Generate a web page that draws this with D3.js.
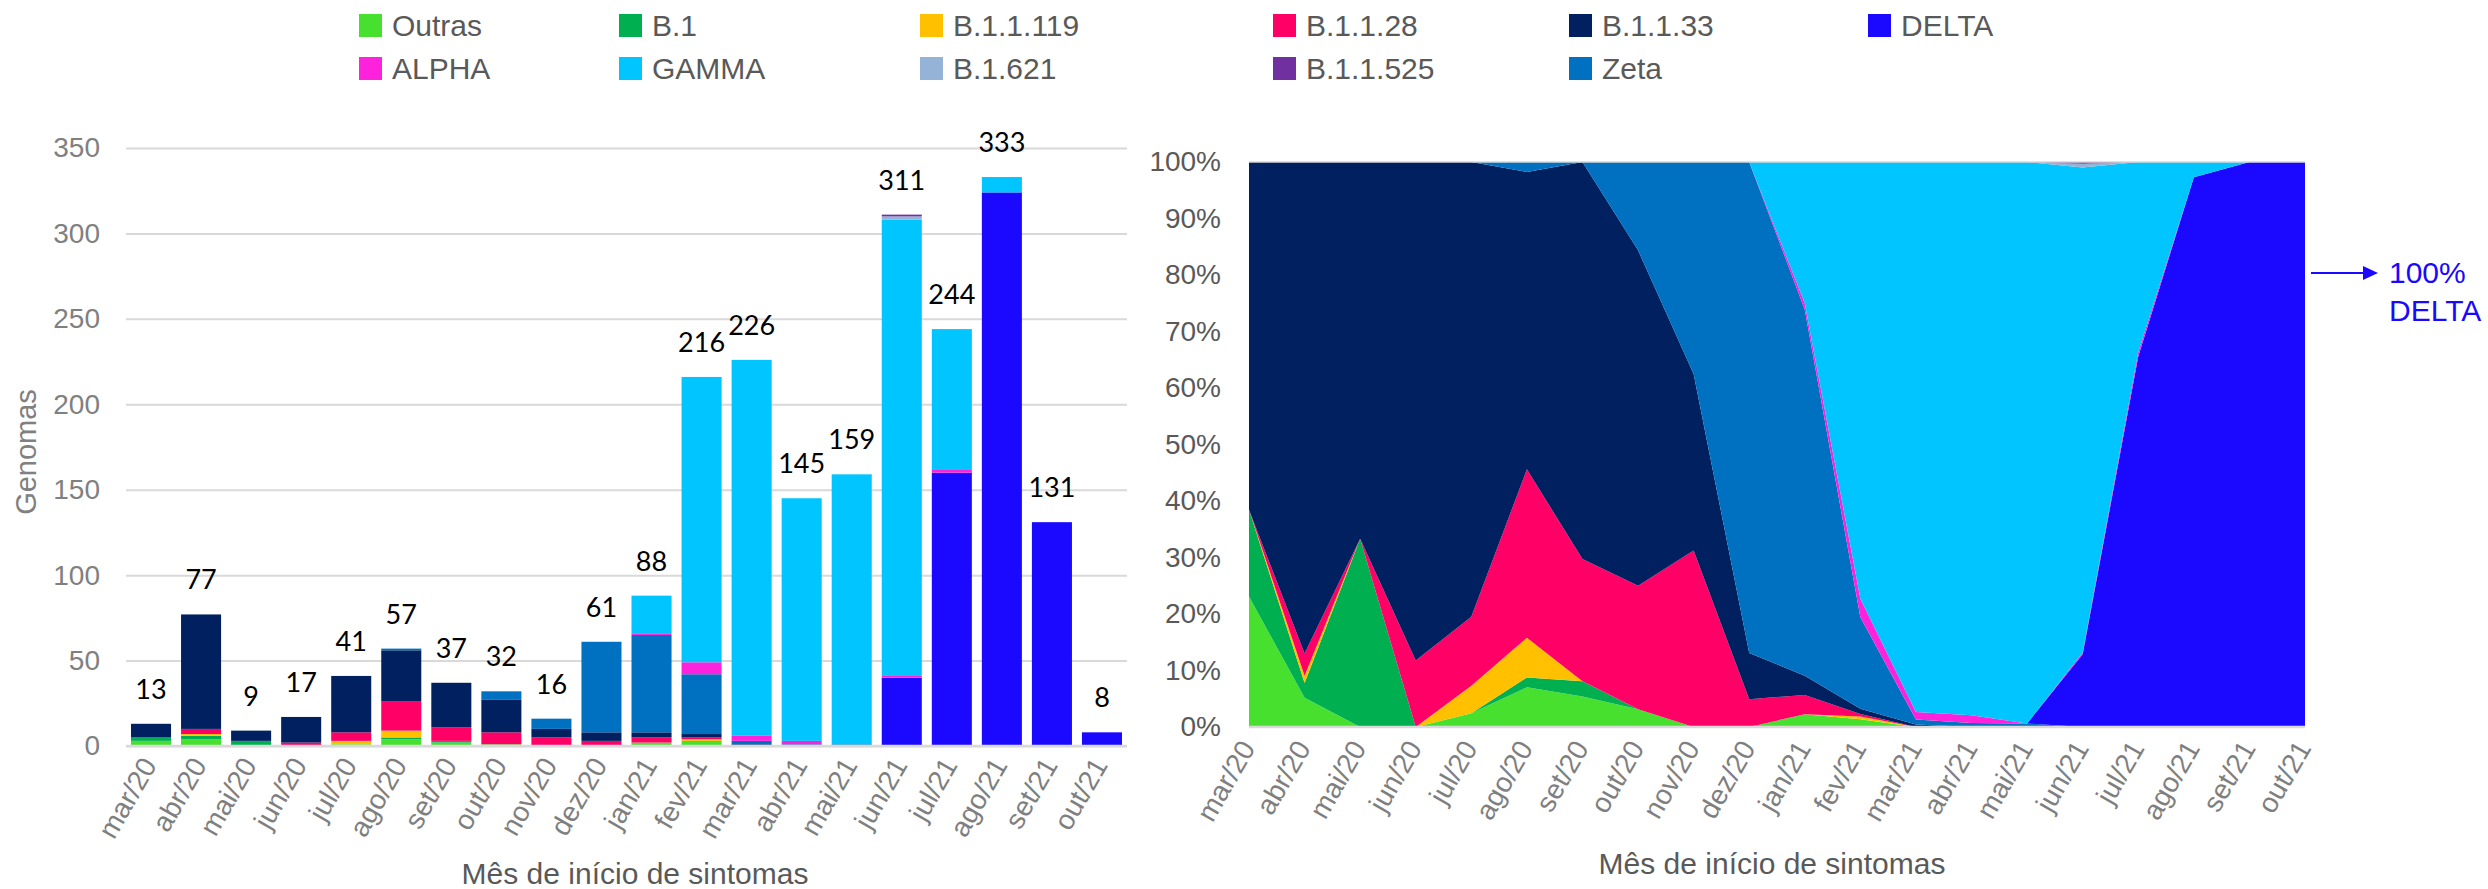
<!DOCTYPE html>
<html>
<head>
<meta charset="utf-8">
<script src="https://cdn.jsdelivr.net/npm/d3@7"></script>
<style>
  body { margin: 0; background: #fff; }
  svg { display: block; font-family: "Liberation Sans", Arial, sans-serif; }
  .grid line { stroke: #d9d9d9; stroke-width: 2; }
  .grid .domain { display: none; }
</style>
</head>
<body>
<div id="chart"></div>
<script>

// months of symptom onset
var months = ["mar/20", "abr/20", "mai/20", "jun/20", "jul/20", "ago/20", "set/20", "out/20", "nov/20", "dez/20",
              "jan/21", "fev/21", "mar/21", "abr/21", "mai/21", "jun/21", "jul/21", "ago/21", "set/21", "out/21"];

// genomes per lineage, one value per month
var outras   = [3, 4, 0, 0, 1, 4, 2, 1, 0, 0, 2, 3, 0, 0, 0, 0, 0, 0, 0, 0];
var b1       = [2, 2, 3, 0, 0, 1, 1, 0, 0, 0, 0, 0, 0, 0, 0, 0, 0, 0, 0, 0];
var b11119   = [0, 1, 0, 0, 2, 4, 0, 0, 0, 0, 0, 1, 0, 0, 0, 0, 0, 0, 0, 0];
var b1128    = [0, 3, 0, 2, 5, 17, 8, 7, 5, 3, 3, 1, 0, 0, 0, 0, 0, 0, 0, 0];
var b1133    = [8, 67, 6, 15, 33, 30, 26, 19, 5, 5, 3, 2, 1, 0, 0, 0, 0, 0, 0, 0];
var zeta     = [0, 0, 0, 0, 0, 1, 0, 5, 6, 53, 57, 35, 2, 1, 1, 0, 0, 0, 0, 0];
var delta    = [0, 0, 0, 0, 0, 0, 0, 0, 0, 0, 0, 0, 0, 0, 0, 40, 160, 324, 131, 8];
var alpha    = [0, 0, 0, 0, 0, 0, 0, 0, 0, 0, 1, 7, 3, 2, 0, 1, 2, 0, 0, 0];
var gamma    = [0, 0, 0, 0, 0, 0, 0, 0, 0, 0, 22, 167, 220, 142, 158, 267, 82, 9, 0, 0];
var b1621    = [0, 0, 0, 0, 0, 0, 0, 0, 0, 0, 0, 0, 0, 0, 0, 2, 0, 0, 0, 0];
var b11525   = [0, 0, 0, 0, 0, 0, 0, 0, 0, 0, 0, 0, 0, 0, 0, 1, 0, 0, 0, 0];

// stacking order (bottom to top)
var lineages = ["Outras", "B.1", "B.1.1.119", "B.1.1.28", "B.1.1.33", "Zeta", "DELTA", "ALPHA", "GAMMA", "B.1.621", "B.1.1.525"];
var series = [outras, b1, b11119, b1128, b1133, zeta, delta, alpha, gamma, b1621, b11525];

// legend order, as in the original (row by row)
var legendOrder = ["Outras", "B.1", "B.1.1.119", "B.1.1.28", "B.1.1.33", "DELTA",
                   "ALPHA", "GAMMA", "B.1.621", "B.1.1.525", "Zeta"];

var yTicksCount = [0, 50, 100, 150, 200, 250, 300, 350];
var yTicksPct = [0, 0.1, 0.2, 0.3, 0.4, 0.5, 0.6, 0.7, 0.8, 0.9, 1];

function colors(name) {
  var names = ["Outras", "B.1", "B.1.1.119", "B.1.1.28", "B.1.1.33", "DELTA", "ALPHA", "GAMMA", "B.1.621", "B.1.1.525", "Zeta"],
    cols = ["#48e02f", "#00b050", "#ffc000", "#ff0066", "#002060", "#1a08ff", "#ff22dd", "#00c5ff", "#95b3d7", "#7030a0", "#0070c0"];
  return cols[names.indexOf(name)];
}

var data = months.map(function (m, i) {
  var row = { month: m };
  lineages.forEach(function (k, j) { row[k] = series[j][i]; });
  row.total = d3.sum(series, function (s) { return s[i]; });
  return row;
});

var svg = d3.select("#chart").append("svg")
  .attr("width", 2488)
  .attr("height", 889);

// ---------- legend ----------
var legendX = [359, 619, 920, 1273, 1569, 1868];
var legend = svg.append("g").attr("class", "legend");
legendOrder.forEach(function (name, i) {
  var col = i % 6, row = Math.floor(i / 6);
  var g = legend.append("g")
    .attr("transform", "translate(" + legendX[col] + "," + (14 + row * 43) + ")");
  g.append("rect").attr("width", 23).attr("height", 23).attr("fill", colors(name));
  g.append("text")
    .attr("x", 33).attr("y", 22)
    .attr("fill", "#595959")
    .style("font-size", "30px")
    .text(name);
});

// ---------- left: stacked bars ----------
var xL = d3.scaleBand().domain(months).range([126, 1127]).paddingInner(0.2).paddingOuter(0.1);
var yL = d3.scaleLinear().domain([0, 350]).range([746, 148]);

svg.append("g")
  .attr("class", "grid")
  .attr("transform", "translate(126,0)")
  .call(d3.axisLeft(yL).tickValues(yTicksCount).tickSize(-1001).tickPadding(26))
  .call(function (g) {
    g.selectAll("text").attr("fill", "#808080").style("font-size", "28px").style("font-family", "Liberation Sans, Arial");
  });

var stackL = d3.stack().keys(lineages)(data);

svg.append("g").selectAll("g")
  .data(stackL).enter().append("g")
  .attr("fill", function (d) { return colors(d.key); })
  .selectAll("rect")
  .data(function (d) { return d; })
  .enter().append("rect")
  .attr("x", function (d) { return xL(d.data.month); })
  .attr("y", function (d) { return yL(d[1]); })
  .attr("width", xL.bandwidth())
  .attr("height", function (d) { return yL(d[0]) - yL(d[1]); });

// baseline
svg.append("line")
  .attr("x1", 126).attr("x2", 1127)
  .attr("y1", yL(0)).attr("y2", yL(0))
  .attr("stroke", "#d9d9d9").attr("stroke-width", 2.5);

// total labels
svg.append("g").selectAll("text")
  .data(data).enter().append("text")
  .attr("x", function (d) { return xL(d.month) + xL.bandwidth() / 2; })
  .attr("y", function (d) { return yL(d.total) - 25; })
  .attr("text-anchor", "middle")
  .style("font-family", "Lato, sans-serif")
  .style("font-size", "27px")
  .attr("fill", "#000")
  .text(function (d) { return d.total; });

svg.append("g")
  .attr("transform", "translate(0," + yL(0) + ")")
  .call(d3.axisBottom(xL).tickSize(0))
  .call(function (g) {
    g.select(".domain").remove();
    g.selectAll("text")
      .attr("x", 0).attr("y", 0).attr("dy", "0.35em")
      .attr("text-anchor", "end")
      .attr("transform", "translate(-2,14) rotate(-60)")
      .attr("fill", "#7f7f7f")
      .style("font-size", "28px")
      .style("font-family", "Liberation Sans, Arial");
  });

svg.append("text")
  .attr("transform", "translate(36,452) rotate(-90)")
  .attr("text-anchor", "middle")
  .attr("fill", "#808080")
  .style("font-size", "29px")
  .text("Genomas");

svg.append("text")
  .attr("x", 635).attr("y", 884)
  .attr("text-anchor", "middle")
  .attr("fill", "#595959")
  .style("font-size", "30px")
  .text("Mês de início de sintomas");

// ---------- right: 100% stacked area ----------
var xR = d3.scalePoint().domain(months).range([1249, 2305]);
var yR = d3.scaleLinear().domain([0, 1]).range([727, 162]);

var stackR = d3.stack().keys(lineages).offset(d3.stackOffsetExpand)(data);

var area = d3.area()
  .x(function (d) { return xR(d.data.month); })
  .y0(function (d) { return yR(d[0]); })
  .y1(function (d) { return yR(d[1]); });

svg.append("g").selectAll("path")
  .data(stackR).enter().append("path")
  .attr("fill", function (d) { return colors(d.key); })
  .attr("d", area);

svg.append("g")
  .attr("transform", "translate(1249,0)")
  .call(d3.axisLeft(yR).tickValues(yTicksPct).tickFormat(d3.format(".0%")).tickSize(0).tickPadding(28))
  .call(function (g) {
    g.select(".domain").remove();
    g.selectAll("text").attr("fill", "#595959").style("font-size", "28px").style("font-family", "Liberation Sans, Arial");
  });

[0, 1].forEach(function (v) {
  svg.append("line")
    .attr("x1", 1249).attr("x2", 2305)
    .attr("y1", yR(v)).attr("y2", yR(v))
    .attr("stroke", "#d9d9d9").attr("stroke-width", v ? 1.5 : 2.5);
});

svg.append("g")
  .attr("transform", "translate(0," + yR(0) + ")")
  .call(d3.axisBottom(xR).tickSize(0))
  .call(function (g) {
    g.select(".domain").remove();
    g.selectAll("text")
      .attr("x", 0).attr("y", 0).attr("dy", "0.35em")
      .attr("text-anchor", "end")
      .attr("transform", "translate(-2,16) rotate(-60)")
      .attr("fill", "#7f7f7f")
      .style("font-size", "28px")
      .style("font-family", "Liberation Sans, Arial");
  });

svg.append("text")
  .attr("x", 1772).attr("y", 874)
  .attr("text-anchor", "middle")
  .attr("fill", "#595959")
  .style("font-size", "30px")
  .text("Mês de início de sintomas");

// annotation: arrow + "100% DELTA"
var ay = yR(0.8) - 2;
svg.append("line")
  .attr("x1", 2311).attr("x2", 2365)
  .attr("y1", ay).attr("y2", ay)
  .attr("stroke", "#1a08ff").attr("stroke-width", 2);
svg.append("path")
  .attr("d", "M2363," + (ay - 7) + "L2378," + ay + "L2363," + (ay + 7) + "Z")
  .attr("fill", "#1a08ff");
var note = svg.append("text")
  .attr("fill", "#1a08ff")
  .style("font-size", "30px");
note.append("tspan").attr("x", 2389).attr("y", 283).text("100%");
note.append("tspan").attr("x", 2389).attr("y", 321).text("DELTA");

</script>
</body>
</html>
